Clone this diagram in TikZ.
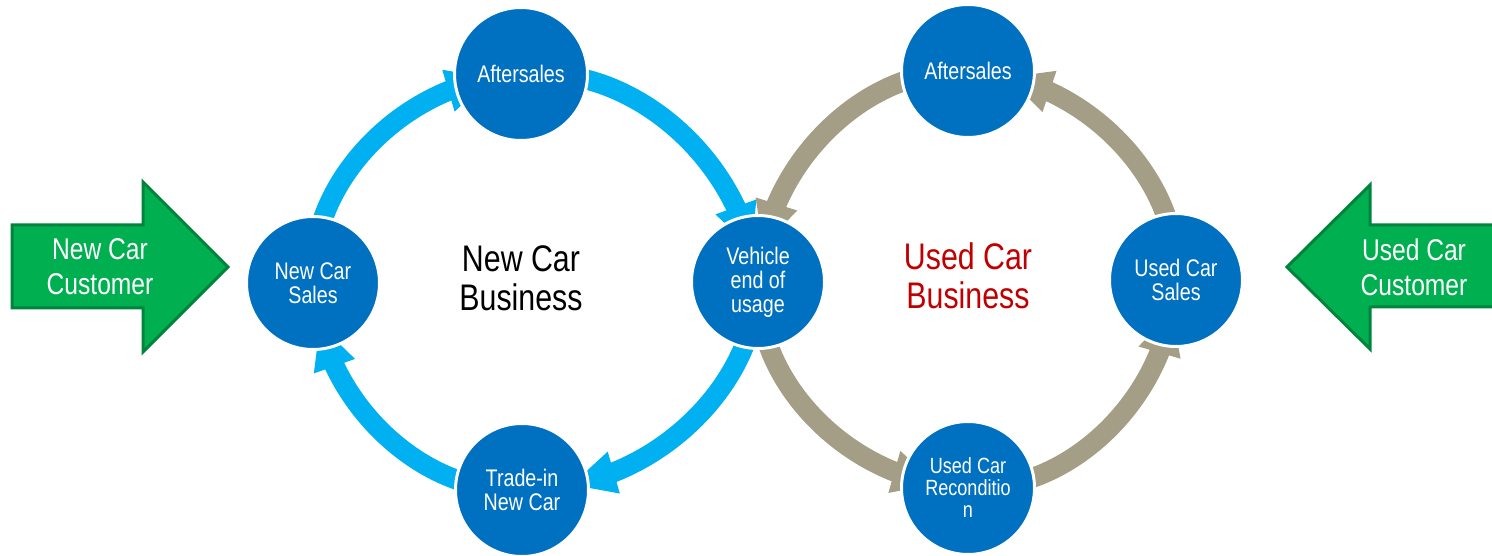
\documentclass[tikz,border=0pt]{standalone}
\usepackage{fontspec}
\setmainfont{Liberation Sans}[FakeStretch=0.82]
\usetikzlibrary{arrows.meta,bending}
\definecolor{circblue}{HTML}{0070C0}
\definecolor{arcblue}{HTML}{00B0F0}
\definecolor{arcgray}{HTML}{A39E85}
\definecolor{gfill}{HTML}{00B050}
\definecolor{gline}{HTML}{00843D}
\definecolor{dred}{HTML}{C00000}
\pgfdeclarelayer{background}
\pgfsetlayers{background,main}
\begin{document}
\begin{tikzpicture}[x=1pt,y=1pt,
  hub/.style={circle, fill=circblue, draw=white, line width=3pt, minimum size=133pt,
    inner sep=0pt, text=white, align=center, font=\fontsize{24}{24}\selectfont},
  bluearc/.style={draw=arcblue, line width=20pt, -{Triangle[width=40pt,length=45pt]}, shorten <=25pt},
  grayarc/.style={draw=arcgray, line width=20pt, -{Triangle[width=40pt,length=45pt]}, shorten <=25pt},
  garrow/.style={fill=gfill, draw=gline, line width=3pt, line join=miter},
  gtext/.style={text=white, align=center, font=\fontsize{30}{35}\selectfont},
  bigtext/.style={align=center, font=\fontsize{37}{39}\selectfont}
]
\useasboundingbox (0,0) rectangle (1492,555);
\clip (0,0) rectangle (1492,555);

% hubs of the left ring
\node[hub] (ncs) at (313,272) {New Car\\Sales};
\node[hub] (asl) at (521,481) {Aftersales};
\node[hub] (veu) at (758,273) {Vehicle\\end of\\usage};
\node[hub] (ti)  at (522,65)  {Trade-in\\New Car};
% hubs of the right ring
\node[hub] (asr) at (968,484) {Aftersales};
\node[hub] (ucs) at (1176,275) {Used Car\\Sales};
\node[hub, font=\fontsize{22}{22}\selectfont] (rc) at (968,67) {Used Car\\Reconditio\\n};

% centre labels
\node[bigtext] (nb) at (521,277) {New Car\\Business};
\node[bigtext, text=dred] (ub) at (968,279) {Used Car\\Business};

% ring connectors
\begin{pgfonlayer}{background}
\draw[bluearc, shorten >=30pt] (ncs.center) to[bend left=41] (asl.center);
\draw[bluearc, shorten >=34pt] (asl.center) to[bend left=41] (veu.center);
\draw[bluearc, shorten >=50pt] (veu.center) to[bend left=41] (ti.center);
\draw[bluearc, shorten >=42pt] (ti.center) to[bend left=41] (ncs.center);
\draw[grayarc, shorten >=31pt] (veu.center) to[bend right=41] (rc.center);
\draw[grayarc, shorten >=30pt] (rc.center) to[bend right=41] (ucs.center);
\draw[grayarc, shorten >=40pt] (ucs.center) to[bend right=41] (asr.center);
\draw[grayarc, shorten >=36pt] (asr.center) to[bend right=41] (veu.center);
\end{pgfonlayer}

% customer arrows
\draw[garrow] (12,247) -- (143,247) -- (143,203) -- (228,288) -- (143,373) -- (143,330) -- (12,330) -- cycle;
\node[gtext] (ncc) at (100,288) {New Car\\Customer};
\draw[garrow] (1510,248) -- (1370,248) -- (1370,206) -- (1287,288) -- (1370,370) -- (1370,330) -- (1510,330) -- cycle;
\node[gtext] (ucc) at (1414,288) {Used Car\\Customer};
\end{tikzpicture}
\end{document}
